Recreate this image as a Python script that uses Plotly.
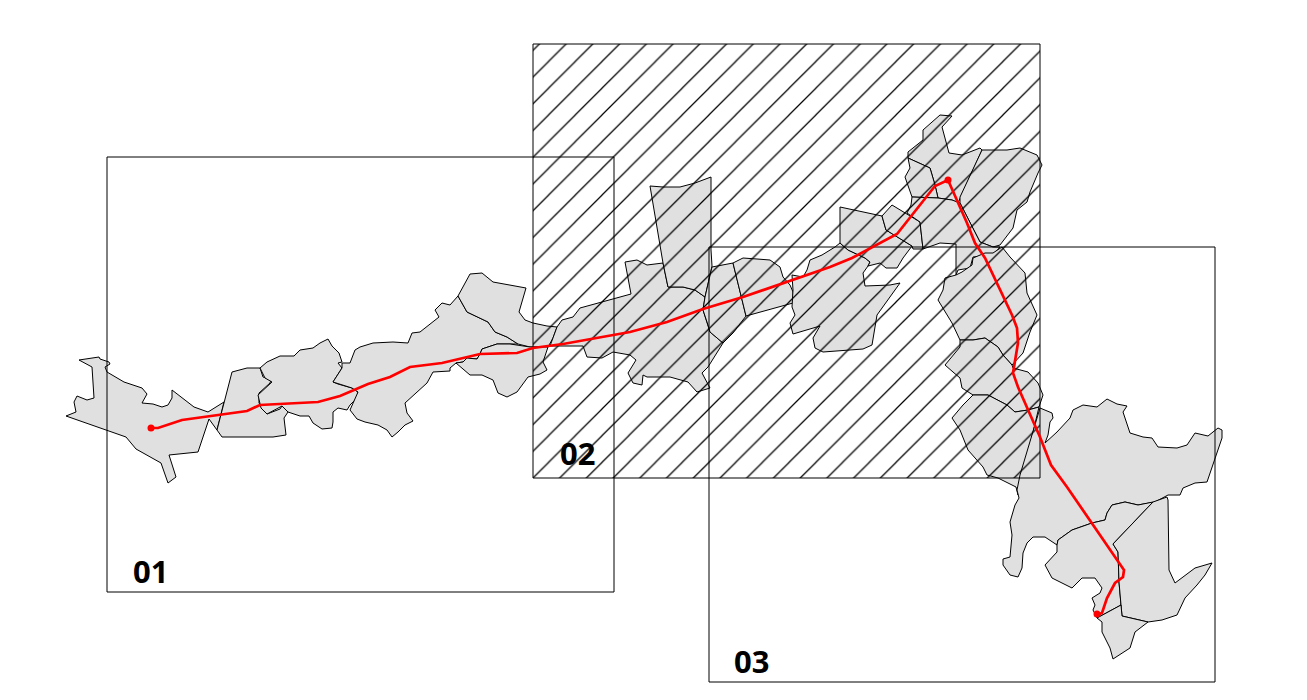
import plotly.graph_objects as go

polygons = {
 "A": [(66,416),(76,412),(74,402),(77,396),(87,400),(94,398),(92,367),(79,360),(99,357),(100,359),(109,362),(110,364),(105,367),(107,372),(124,382),(142,388),(147,394),(142,403),(153,404),(162,407),(168,405),(172,398),(172,390),(194,407),(208,412),(224,402),(217,430),(209,419),(198,452),(169,455),(176,477),(168,483),(161,463),(136,449),(126,437)],
 "B": [(232,372),(247,368),(260,368),(263,377),(271,380),(270,383),(259,393),(259,403),(267,414),(280,409),(282,406),(288,412),(284,418),(286,435),(273,437),(222,437),(217,430),(224,402)],
 "C": [(260,368),(267,362),(280,356),(294,356),(300,350),(313,348),(320,343),(328,339),(332,346),(339,353),(342,362),(338,363),(342,368),(333,382),(338,384),(352,388),(358,392),(357,398),(350,405),(347,410),(338,408),(333,412),(333,422),(332,428),(322,429),(313,423),(309,416),(300,416),(288,412),(282,406),(267,414),(261,408),(258,395),(272,382),(265,378)],
 "D": [(342,363),(350,363),(355,350),(360,347),(373,343),(393,342),(408,343),(412,333),(420,332),(435,320),(439,317),(435,310),(442,303),(450,305),(458,296),(467,312),(488,322),(495,332),(507,337),(518,344),(497,344),(482,349),(480,354),(477,359),(467,358),(463,362),(456,363),(450,368),(450,371),(433,372),(427,383),(405,403),(407,413),(413,421),(405,425),(398,432),(392,437),(387,430),(378,425),(365,422),(357,419),(350,410),(358,392),(352,388),(333,382),(342,368)],
 "E": [(458,296),(470,274),(482,273),(493,282),(526,288),(519,312),(525,320),(533,323),(547,326),(557,327),(553,338),(548,347),(530,347),(518,344),(507,337),(495,332),(488,322),(467,312)],
 "E2": [(548,347),(530,347),(510,344),(497,344),(482,349),(480,354),(477,359),(467,358),(463,362),(456,363),(470,375),(482,375),(493,380),(498,393),(507,397),(517,392),(528,377),(540,374),(547,370),(543,362)],
 "F": [(625,262),(637,260),(647,265),(663,263),(668,287),(683,287),(695,290),(705,297),(703,310),(708,325),(710,332),(723,343),(708,367),(702,373),(710,388),(697,392),(688,382),(670,377),(647,377),(643,375),(642,385),(633,383),(628,373),(636,360),(630,355),(613,352),(602,358),(587,357),(583,346),(550,346),(557,327),(562,320),(573,317),(580,308),(631,294)],
 "G": [(650,186),(663,187),(680,187),(695,183),(711,177),(711,250),(712,266),(705,297),(695,290),(683,287),(668,287),(663,263)],
 "H": [(712,267),(733,263),(746,316),(733,333),(723,343),(710,332),(708,325),(703,310),(705,297)],
 "I": [(733,263),(743,258),(757,259),(770,260),(780,267),(783,277),(790,285),(793,292),(793,303),(746,316)],
 "M": [(792,275),(803,277),(807,270),(810,260),(822,255),(835,247),(840,243),(848,250),(865,258),(870,262),(868,266),(863,273),(865,286),(890,285),(900,283),(877,315),(875,327),(872,345),(863,349),(823,352),(815,348),(813,338),(820,326),(793,334),(790,323),(795,315),(792,307),(793,290)],
 "K": [(840,207),(882,216),(886,230),(912,246),(903,258),(897,268),(886,268),(880,263),(868,266),(870,262),(865,258),(848,250),(840,243)],
 "L": [(882,216),(892,205),(920,222),(923,249),(913,249),(912,246),(886,230)],
 "Q": [(940,115),(952,116),(942,127),(949,153),(962,155),(980,148),(982,150),(960,197),(958,203),(952,200),(938,198),(935,185),(930,168),(908,158),(908,152),(923,140),(923,130)],
 "P": [(908,158),(930,168),(935,185),(938,198),(912,197),(905,177),(910,168)],
 "O": [(982,150),(1007,150),(1020,148),(1037,155),(1042,165),(1038,173),(1030,192),(1027,202),(1017,210),(1013,228),(1000,245),(993,247),(980,242),(960,203),(960,197)],
 "R": [(912,197),(938,198),(952,200),(960,203),(980,242),(993,247),(1000,247),(993,255),(973,257),(970,268),(958,270),(956,275),(956,244),(940,243),(923,249),(920,222),(907,213),(911,205)],
 "S1": [(956,275),(962,272),(972,265),(973,258),(985,253),(993,253),(1002,247),(1010,257),(1025,273),(1027,293),(1037,315),(1030,332),(1023,353),(1012,365),(1003,355),(998,347),(985,338),(973,340),(960,340),(952,323),(938,300),(943,290),(945,278)],
 "S2": [(960,340),(973,340),(985,338),(998,347),(1003,355),(1012,365),(1013,368),(1028,372),(1038,383),(1043,395),(1039,407),(1028,410),(1015,412),(1007,405),(988,395),(973,395),(962,388),(960,378),(953,372),(945,365),(960,347)],
 "S3": [(973,395),(988,395),(1007,405),(1015,412),(1028,410),(1039,407),(1018,495),(1016,487),(998,478),(987,475),(983,467),(968,450),(960,430),(952,418),(963,405)],
 "U": [(1040,408),(1052,413),(1053,418),(1050,422),(1048,435),(1045,443),(1057,432),(1070,418),(1073,410),(1083,405),(1097,407),(1107,399),(1117,404),(1127,406),(1123,412),(1130,433),(1143,437),(1152,438),(1158,447),(1177,448),(1187,445),(1195,433),(1208,436),(1218,428),(1222,430),(1222,438),(1207,482),(1195,483),(1183,488),(1180,495),(1168,495),(1155,502),(1138,505),(1125,502),(1112,505),(1107,513),(1105,520),(1092,523),(1072,530),(1058,540),(1057,545),(1045,537),(1033,537),(1027,543),(1023,553),(1022,568),(1018,577),(1010,575),(1003,565),(1003,559),(1010,557),(1012,535),(1010,522),(1015,505),(1019,498),(1017,490),(1020,475)],
 "V": [(1058,540),(1072,530),(1092,523),(1105,520),(1107,513),(1112,505),(1125,502),(1138,505),(1153,502),(1113,544),(1118,552),(1119,582),(1121,605),(1097,618),(1093,610),(1095,605),(1092,598),(1100,593),(1102,588),(1095,578),(1082,578),(1072,588),(1052,578),(1045,565),(1057,552),(1057,545)],
 "W": [(1153,502),(1167,497),(1168,500),(1169,570),(1175,583),(1195,568),(1212,563),(1205,575),(1197,585),(1185,598),(1177,615),(1162,620),(1148,622),(1122,616),(1121,605),(1119,582),(1118,552),(1113,544)],
 "X": [(1097,618),(1121,605),(1122,616),(1148,622),(1135,632),(1130,648),(1113,659),(1110,648),(1102,632),(1102,622)],
}

route = [(151,428),(158,428),(182,420),(247,411),(260,405),(282,404),(318,402),(340,396),(368,384),(390,377),(410,367),(442,363),(480,354),(517,353),(533,348),(563,344),(630,332),(667,322),(703,309),(743,297),(800,277),(830,267),(852,258),(897,234),(935,186),(948,180),(967,223),(975,243),(985,258),(1012,315),(1017,328),(1018,343),(1013,373),(1018,387),(1040,437),(1051,465),(1067,487),(1124,570),(1123,577),(1115,583),(1107,598),(1102,613),(1097,615)]
stops = [(151,428),(948,180),(1097,614)]
frames = {"01": (107,157,614,592), "02": (533,44,1040,478), "03": (709,247,1215,682)}
frame_labels = {"01": (150,571), "02": (577,453), "03": (751,661)}

fig = go.Figure()
for name, pts in polygons.items():
    closed = pts + pts[:1]
    fig.add_trace(go.Scatter(x=[p[0] for p in closed], y=[p[1] for p in closed], mode="lines",
                             fill="toself", fillcolor="#e0e0e0", line=dict(color="black", width=1), name=name))

for name, (x0, y0, x1, y1) in frames.items():
    kw = {}
    if name == "02":
        kw = dict(fill="toself", fillcolor="rgba(0,0,0,0)",
                  fillpattern=dict(shape="/", size=18.9, solidity=0.065, fgcolor="black", fgopacity=1,
                                   bgcolor="rgba(0,0,0,0)", fillmode="overlay"))
    fig.add_trace(go.Scatter(x=[x0,x1,x1,x0,x0], y=[y0,y0,y1,y1,y0], mode="lines",
                             line=dict(color="black", width=1), name=name, **kw))

fig.add_trace(go.Scatter(x=[p[0] for p in route], y=[p[1] for p in route], mode="lines",
                         line=dict(color="#ff0000", width=2.7), name="route"))
fig.add_trace(go.Scatter(x=[p[0] for p in stops], y=[p[1] for p in stops], mode="markers",
                         marker=dict(color="#ff0000", size=7), name="stops"))

for text, (x, y) in frame_labels.items():
    fig.add_annotation(x=x, y=y, text=f"<b>{text}</b>", showarrow=False,
                       font=dict(family="Noto Sans", size=31, color="black"))

PAGE_MARGIN = 8
LEFT_INSET = 6  # moves the origin of the hatch tile
fig.update_layout(width=1307-PAGE_MARGIN, height=700-PAGE_MARGIN,
                  margin=dict(l=LEFT_INSET, r=0, t=0, b=0), showlegend=False,
                  paper_bgcolor="white", plot_bgcolor="white", hovermode=False,
                  xaxis=dict(range=[PAGE_MARGIN+LEFT_INSET,1307], visible=False),
                  yaxis=dict(range=[700,PAGE_MARGIN], visible=False))
fig.write_html("out.html")
